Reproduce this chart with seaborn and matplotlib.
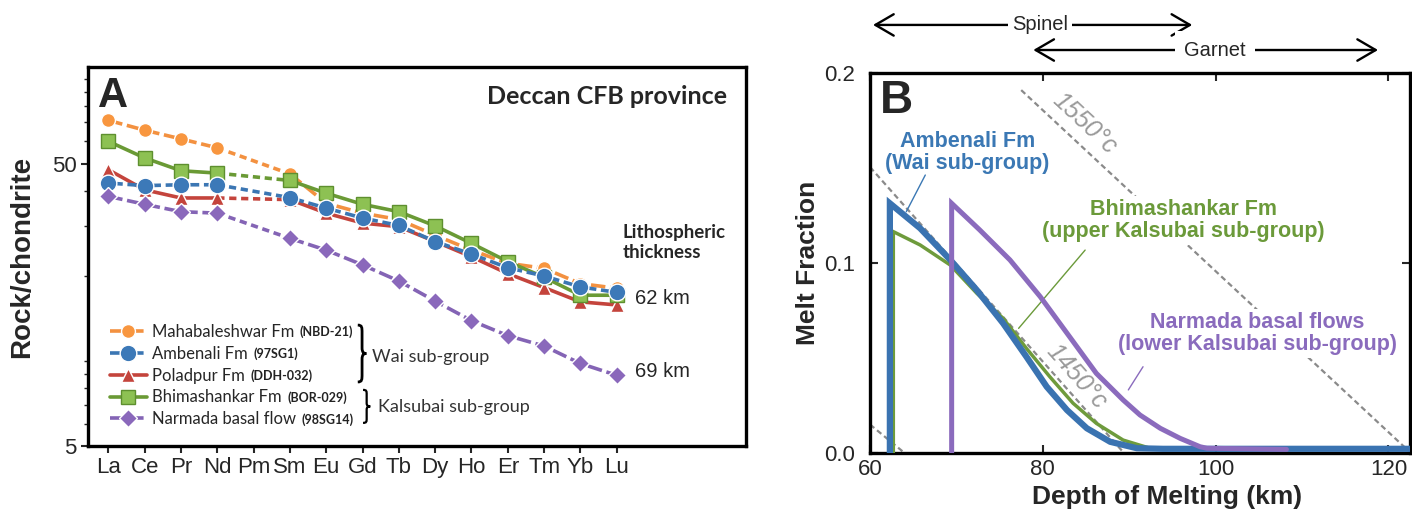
import numpy as np
import pandas as pd
import matplotlib
matplotlib.use("Agg")
import matplotlib.pyplot as plt
from matplotlib.path import Path
from matplotlib.patches import PathPatch
import seaborn as sns

# ---------------- panel A : chondrite normalised REE ----------------
ree = ['La', 'Ce', 'Pr', 'Nd', 'Pm', 'Sm', 'Eu', 'Gd', 'Tb', 'Dy', 'Ho', 'Er', 'Tm', 'Yb', 'Lu']
nan = np.nan
mahabaleshwar = [71.2, 65.7, 61.2, 56.9, nan, 46.0, 36.2, 33.4, 31.7, 27.9, 24.7, 22.2, 21.3, 18.8, 18.1]
ambenali = [42.7, 41.8, 42.1, 42.1, nan, 37.9, 34.8, 32.1, 30.2, 26.5, 23.9, 21.4, 20.0, 18.3, 17.5]
poladpur = [47.6, 40.4, 37.8, 37.8, nan, 37.3, 33.4, 30.8, 29.9, 26.5, 23.4, 20.4, 18.2, 16.2, 15.8]
bhimashankar = [60.0, 52.4, 47.2, 46.3, nan, 43.6, 39.3, 35.9, 33.8, 30.1, 26.1, 22.5, 19.8, 17.1, 17.1]
narmada = [38.3, 35.9, 33.8, 33.4, nan, 27.2, 24.7, 21.9, 19.2, 16.3, 13.9, 12.3, 11.3, 9.8, 8.9]

names = ['Mahabaleshwar Fm', 'Ambenali Fm', 'Poladpur Fm', 'Bhimashankar Fm', 'Narmada basal flow']
codes = ['(NBD-21)', '(97SG1)', '(DDH-032)', '(BOR-029)', '(98SG14)']

# ---------------- panel B : melt fraction vs depth ----------------
ambenali_km = [62.3, 62.3, 65.8, 69.3, 72.35, 75.4, 78.1, 80.45, 82.8, 85.1, 87.8, 90.9, 93.9, 122.5]
ambenali_f = [0.0, 0.1314, 0.1183, 0.1016, 0.0858, 0.0683, 0.0507, 0.0349, 0.0226, 0.0130, 0.0059, 0.0025, 0.0022, 0.0022]
bhima_km = [62.7, 62.7, 65.8, 69.3, 72.35, 75.4, 78.1, 80.8, 83.5, 86.2, 89.3, 92.4, 95.0]
bhima_f = [0.0, 0.1165, 0.1095, 0.0989, 0.0841, 0.0709, 0.0551, 0.0402, 0.0262, 0.0156, 0.0068, 0.0025, 0.0022]
narmada_km = [69.45, 69.45, 72.7, 76.2, 79.7, 83.1, 86.2, 89.3, 91.25, 93.6, 95.9, 98.2, 99.0, 108.2]
narmada_f = [0.0, 0.1314, 0.1174, 0.1016, 0.0823, 0.0612, 0.0419, 0.0279, 0.0200, 0.0130, 0.0077, 0.0033, 0.0025, 0.0019]

iso1550_km = [77.5, 122.6]
iso1550_f = [0.191, 0.0]
iso1450_km = [60.0, 89.4]
iso1450_f = [0.1505, 0.0]
iso_low_km = [60.0, 64.0]
iso_low_f = [0.015, 0.0]

sns.set_style('ticks')
plt.rcParams['font.family'] = ['Liberation Sans', 'DejaVu Sans']

fig = plt.figure(figsize=(14.12, 5.17), dpi=100)
axA = fig.add_axes([88 / 1412, 1 - 446 / 517, 658 / 1412, 379 / 517])
axB = fig.add_axes([870 / 1412, 1 - 453 / 517, 540 / 1412, 380 / 517])

styles = {
    'Mahabaleshwar Fm': dict(color='#f39140', marker='o', ms=10, mfc='#f8963f', mec='white', ls=(0, (4, 1.3)), z=2),
    'Poladpur Fm': dict(color='#c4443c', marker='^', ms=10, mfc='#c4443c', mec='white', ls='-', z=3),
    'Bhimashankar Fm': dict(color='#6a9a35', marker='s', ms=9.5, mfc='#8dc153', mec='#5e8f2f', ls='-', z=4),
    'Ambenali Fm': dict(color='#3b76b3', marker='o', ms=12, mfc='#3c79b8', mec='white', ls=(0, (4, 1.3)), z=5),
    'Narmada basal flow': dict(color='#8464b5', marker='D', ms=9, mfc='#8a68bb', mec='white', ls=(0, (4, 1.3)), z=6),
}
values = {'Mahabaleshwar Fm': mahabaleshwar, 'Ambenali Fm': ambenali, 'Poladpur Fm': poladpur,
          'Bhimashankar Fm': bhimashankar, 'Narmada basal flow': narmada}


def ree_line(ax, vals, st):
    df = pd.DataFrame({'pos': np.arange(len(ree)), 'val': vals})
    kw = dict(color=st['color'], lw=2.6, marker=st['marker'], markersize=st['ms'],
              markerfacecolor=st['mfc'], markeredgecolor=st['mec'], markeredgewidth=1.0,
              linestyle=st['ls'], zorder=st['z'])
    sns.lineplot(data=df.iloc[:4], x='pos', y='val', ax=ax, errorbar=None, **kw)
    handle = ax.lines[-1]
    sns.lineplot(data=df.iloc[5:], x='pos', y='val', ax=ax, errorbar=None, **kw)
    # dashed bridge over the missing Pm
    sns.lineplot(data=df.iloc[[3, 5]], x='pos', y='val', ax=ax, errorbar=None, color=st['color'],
                 lw=2.6, linestyle=(0, (2.0, 1.3)), zorder=st['z'] - 0.5)
    return handle


handles = {}
for name in ['Mahabaleshwar Fm', 'Poladpur Fm', 'Bhimashankar Fm', 'Ambenali Fm', 'Narmada basal flow']:
    handles[name] = ree_line(axA, values[name], styles[name])

axA.set_yscale('log')
axA.set_ylim(5, 110)
axA.set_xlim(-0.56, 17.56)
axA.set_xticks(range(len(ree)), labels=ree)
axA.set_yticks([5, 50], labels=['5', '50'])
axA.set_yticks([6, 7, 8, 9, 10, 20, 30, 40, 60, 70, 80, 90, 100], minor=True)
axA.yaxis.set_minor_formatter(plt.NullFormatter())
axA.tick_params(axis='both', which='major', direction='out', length=5, width=1.5, labelsize=16, pad=3)
axA.tick_params(axis='y', which='minor', direction='out', length=3, width=1.0)
axA.set_xlabel('')
axA.set_ylabel('Rock/chondrite', fontsize=20, fontweight='bold')
axA.yaxis.set_label_coords(-0.0805, 0.5)
for s in axA.spines.values():
    s.set_linewidth(2.4)
    s.set_color('black')

axA.text(-0.28, 79.6, 'A', fontsize=30, fontweight='bold', ha='left', va='baseline')
axA.text(17.04, 81.1, 'Deccan CFB province', fontsize=18, fontweight='bold', family='Lato',
         ha='right', va='baseline')
axA.text(14.15, 27.2, 'Lithospheric', fontsize=13.5, fontweight='bold', family='Lato', ha='left', va='baseline')
axA.text(14.15, 23.1, 'thickness', fontsize=13.5, fontweight='bold', family='Lato', ha='left', va='baseline')
axA.text(14.5, 15.96, '62 km', fontsize=14.5, ha='left', va='baseline')
axA.text(14.5, 8.81, '69 km', fontsize=14.5, ha='left', va='baseline')

leg = axA.legend([handles[n] for n in names], names, loc='upper left', bbox_to_anchor=(0.0334, 0.322),
                 frameon=False, borderpad=0, borderaxespad=0, handlelength=2.2, handletextpad=0.35,
                 labelspacing=0.35, prop={'family': 'Lato', 'size': 12})


def brace(ax, x, y_top, y_bot, w, lw=2.0):
    h = y_top - y_bot
    ym = (y_top + y_bot) / 2
    xm = x + w * 0.5
    verts = [(x, y_top), (xm, y_top), (xm, y_top - 0.04 * h), (xm, y_top - 0.14 * h),
             (xm, ym + 0.1 * h),
             (xm, ym + 0.02 * h), (x + w * 0.7, ym), (x + w, ym),
             (x + w * 0.7, ym), (xm, ym - 0.02 * h), (xm, ym - 0.1 * h),
             (xm, y_bot + 0.14 * h),
             (xm, y_bot + 0.04 * h), (xm, y_bot), (x, y_bot)]
    cds = [Path.MOVETO] + [Path.CURVE4] * 3 + [Path.LINETO] + [Path.CURVE4] * 6 + [Path.LINETO] + [Path.CURVE4] * 3
    ax.add_patch(PathPatch(Path(verts, cds), fill=False, lw=lw, color='black',
                           transform=ax.transAxes, clip_on=False))


brace(axA, 0.410, 0.319, 0.169, 0.013)
brace(axA, 0.418, 0.148, 0.061, 0.011, lw=1.6)
axA.text(0.4316, 0.236, 'Wai sub-group', transform=axA.transAxes, fontsize=13, family='Lato',
         color='#333333', ha='left', va='center')
axA.text(0.4407, 0.104, 'Kalsubai sub-group', transform=axA.transAxes, fontsize=13, family='Lato',
         color='#333333', ha='left', va='center')

# ---------------- panel B ----------------
for kmv, fv in [(iso1550_km, iso1550_f), (iso1450_km, iso1450_f), (iso_low_km, iso_low_f)]:
    sns.lineplot(x=kmv, y=fv, ax=axB, color='#8a8a8a', lw=1.6, linestyle=(0, (2.5, 1.6)),
                 estimator=None, sort=False, errorbar=None, zorder=1)

curves = [(bhima_km, bhima_f, '#6e9b3c', 2.5, 4),
          (ambenali_km, ambenali_f, '#3a73b1', 4.5, 5),
          (narmada_km, narmada_f, '#8b6bbd', 3.6, 6)]
for kmv, fv, c, lw, z in curves:
    sns.lineplot(x=kmv, y=fv, ax=axB, color=c, lw=lw, estimator=None, sort=False,
                 errorbar=None, zorder=z, solid_joinstyle='miter')

axB.set_xlim(60, 122.5)
axB.set_ylim(0, 0.2)
axB.set_xticks([60, 80, 100, 120])
axB.set_yticks([0.0, 0.1, 0.2], labels=['0.0', '0.1', '0.2'])
axB.tick_params(direction='in', top=True, right=True, length=6, width=1.5, labelsize=16)
axB.tick_params(axis='y', pad=11)
axB.tick_params(axis='x', pad=4)
axB.set_xlabel('Depth of Melting (km)', fontsize=19, fontweight='bold')
axB.set_ylabel('Melt Fraction', fontsize=19, fontweight='bold')
axB.xaxis.set_label_coords(0.55, -0.084)
axB.yaxis.set_label_coords(-0.092, 0.5)
for s in axB.spines.values():
    s.set_linewidth(2.4)
    s.set_color('black')


def line_angle(ax, xs, ys):
    p = ax.transData.transform(np.column_stack([xs, ys]))
    return np.degrees(np.arctan2(p[1, 1] - p[0, 1], p[1, 0] - p[0, 0]))


axB.text(84.9, 0.1735, '1550°c', fontsize=18, style='italic', color='#9a9a9a',
         rotation=line_angle(axB, iso1550_km, iso1550_f), ha='center', va='center', rotation_mode='anchor')
axB.text(83.9, 0.0405, '1450°c', fontsize=18, style='italic', color='#9a9a9a',
         rotation=line_angle(axB, iso1450_km, iso1450_f), ha='center', va='center', rotation_mode='anchor')

axB.text(61.2, 0.1789, 'B', fontsize=33, fontweight='bold', ha='left', va='baseline')

axB.text(71.3, 0.158, 'Ambenali Fm\n(Wai sub-group)', fontsize=15.5, fontweight='bold', color='#3b78b4',
         ha='center', va='center', linespacing=1.05, zorder=7)
axB.text(96.3, 0.1222, 'Bhimashankar Fm\n(upper Kalsubai sub-group)', fontsize=15.5, fontweight='bold',
         color='#6b9a3a', ha='center', va='center', linespacing=1.05, zorder=3,
         bbox=dict(boxstyle='square,pad=0.15', fc='white', ec='none'))
axB.text(104.8, 0.063, 'Narmada basal flows\n(lower Kalsubai sub-group)', fontsize=15.5, fontweight='bold',
         color='#8a6bbd', ha='center', va='center', linespacing=1.05, zorder=3,
         bbox=dict(boxstyle='square,pad=0.15', fc='white', ec='none'))

axB.annotate('', xy=(64.2, 0.127), xytext=(66.4, 0.1463),
             arrowprops=dict(arrowstyle='-', color='#3b78b4', lw=1.0, shrinkA=0, shrinkB=0))
axB.annotate('', xy=(77.2, 0.0656), xytext=(84.9, 0.1068),
             arrowprops=dict(arrowstyle='-', color='#6b9a3a', lw=1.0, shrinkA=0, shrinkB=0))
axB.annotate('', xy=(89.9, 0.0332), xytext=(91.6, 0.0454),
             arrowprops=dict(arrowstyle='-', color='#8a6bbd', lw=1.0, shrinkA=0, shrinkB=0))

# mineral stability ranges above the panel
arrow = dict(arrowstyle='<->,head_length=0.6,head_width=0.35', color='black', lw=1.7,
             shrinkA=0, shrinkB=0, mutation_scale=22)
axB.annotate('', xy=(60.35, 0.2253), xytext=(97.3, 0.2253), arrowprops=arrow, annotation_clip=False)
axB.annotate('', xy=(78.9, 0.2121), xytext=(118.8, 0.2121), arrowprops=arrow, annotation_clip=False)
axB.text(79.7, 0.2253, 'Spinel', fontsize=14.5, ha='center', va='center', clip_on=False,
         bbox=dict(boxstyle='square,pad=0.2', fc='white', ec='none'))
axB.text(99.9, 0.2121, 'Garnet', fontsize=14.5, ha='center', va='center', clip_on=False,
         bbox=dict(boxstyle='square,pad=0.45', fc='white', ec='none'))

# sample codes after the legend names, in smaller type
fig.canvas.draw()
rend = fig.canvas.get_renderer()
for txt, code in zip(leg.get_texts(), codes):
    bb = txt.get_window_extent(rend)
    fx, fy = fig.transFigure.inverted().transform((bb.x1 + 5, bb.y0 + 1.5))
    fig.text(fx, fy, code, fontsize=9, family='Lato', fontweight='bold', color='#222222',
             ha='left', va='bottom')

fig.savefig('out.png', dpi=100)
